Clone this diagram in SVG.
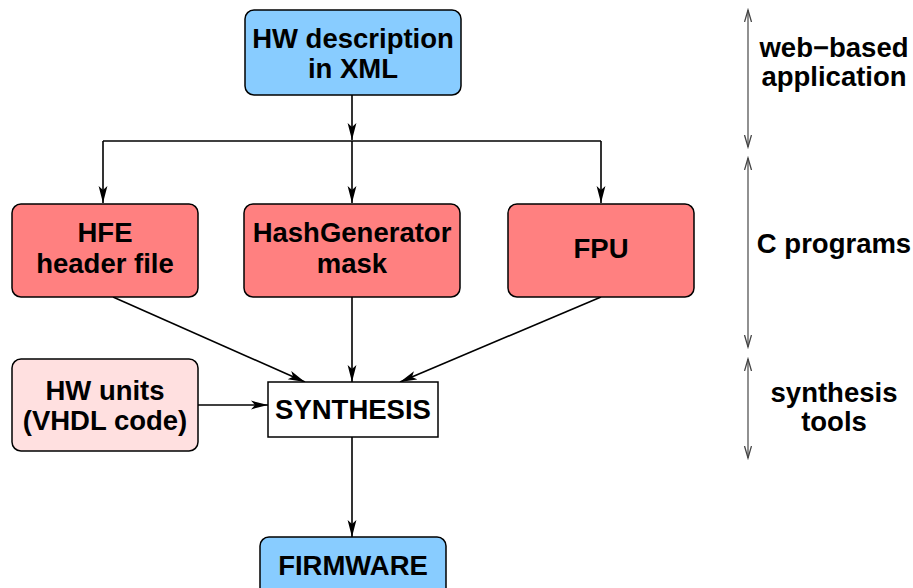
<svg xmlns="http://www.w3.org/2000/svg" width="913" height="588" viewBox="0 0 913 588">
  <defs>
    <style>
      .lbl { font-family: "Liberation Sans", Arial, Helvetica, sans-serif; font-weight: bold; font-size: 27.5px; fill: #000; text-anchor: middle; }
      .box { stroke: #000; stroke-width: 1.5; }
      .blue { fill: #88ccff; }
      .red { fill: #ff8080; }
      .pink { fill: #ffe0e0; }
      .plain { fill: #fff; }
      .edge { stroke: #000; stroke-width: 1.6; fill: none; }
      .span { stroke: #555; stroke-width: 1.3; fill: none; }
    </style>
    <marker id="head" markerUnits="userSpaceOnUse" markerWidth="20" markerHeight="12" refX="17" refY="5" orient="auto">
      <path d="M17,5 L0,0.6 L4,5 L0,9.4 Z" fill="#000"/>
    </marker>
    <marker id="openhead" markerUnits="userSpaceOnUse" markerWidth="14" markerHeight="10" refX="12" refY="4" orient="auto-start-reverse">
      <path d="M0,0.5 L12,4 L0,7.5" fill="none" stroke="#444" stroke-width="1.3"/>
    </marker>
  </defs>

  <!-- connectors -->
  <g id="connectors">
    <line class="edge" x1="352" y1="95" x2="352" y2="140" marker-end="url(#head)"/>
    <line class="edge" x1="103" y1="141" x2="601" y2="141"/>
    <line class="edge" x1="103" y1="141" x2="103" y2="203" marker-end="url(#head)"/>
    <line class="edge" x1="352" y1="141" x2="352" y2="203" marker-end="url(#head)"/>
    <line class="edge" x1="601" y1="141" x2="601" y2="203" marker-end="url(#head)"/>
    <line class="edge" x1="113" y1="297" x2="305" y2="382" marker-end="url(#head)"/>
    <line class="edge" x1="352" y1="297" x2="352" y2="382" marker-end="url(#head)"/>
    <line class="edge" x1="601" y1="297" x2="400" y2="382" marker-end="url(#head)"/>
    <line class="edge" x1="198" y1="405" x2="268" y2="405" marker-end="url(#head)"/>
    <line class="edge" x1="352" y1="437" x2="352" y2="537" marker-end="url(#head)"/>
  </g>

  <!-- stage brackets on the right -->
  <g id="stages">
    <line class="span" x1="748" y1="10" x2="748" y2="147" marker-start="url(#openhead)" marker-end="url(#openhead)"/>
    <line class="span" x1="748" y1="158" x2="748" y2="347" marker-start="url(#openhead)" marker-end="url(#openhead)"/>
    <line class="span" x1="748" y1="359" x2="748" y2="458" marker-start="url(#openhead)" marker-end="url(#openhead)"/>
    <text class="lbl" x="834" y="57">web−based</text>
    <text class="lbl" x="834" y="86">application</text>
    <text class="lbl" x="834" y="253">C programs</text>
    <text class="lbl" x="834" y="402">synthesis</text>
    <text class="lbl" x="834" y="431">tools</text>
  </g>

  <g id="hw-description">
    <rect class="box blue" x="245" y="10" width="216" height="85" rx="9"/>
    <text class="lbl" x="353" y="48">HW description</text>
    <text class="lbl" x="353" y="78">in XML</text>
  </g>

  <g id="hfe">
    <rect class="box red" x="12" y="204" width="186" height="93" rx="9"/>
    <text class="lbl" x="105" y="242">HFE</text>
    <text class="lbl" x="105" y="273">header file</text>
  </g>

  <g id="hashgenerator">
    <rect class="box red" x="244" y="204" width="216" height="93" rx="9"/>
    <text class="lbl" x="352" y="242">HashGenerator</text>
    <text class="lbl" x="352" y="273">mask</text>
  </g>

  <g id="fpu">
    <rect class="box red" x="508" y="204" width="186" height="93" rx="9"/>
    <text class="lbl" x="601" y="258">FPU</text>
  </g>

  <g id="hw-units">
    <rect class="box pink" x="12" y="359" width="186" height="92" rx="9"/>
    <text class="lbl" x="105" y="400">HW units</text>
    <text class="lbl" x="105" y="430">(VHDL code)</text>
  </g>

  <g id="synthesis">
    <rect class="box plain" x="268" y="382" width="170" height="55"/>
    <text class="lbl" x="353" y="419">SYNTHESIS</text>
  </g>

  <g id="firmware">
    <rect class="box blue" x="260" y="537" width="186" height="60" rx="9"/>
    <text class="lbl" x="353" y="575">FIRMWARE</text>
  </g>
</svg>
